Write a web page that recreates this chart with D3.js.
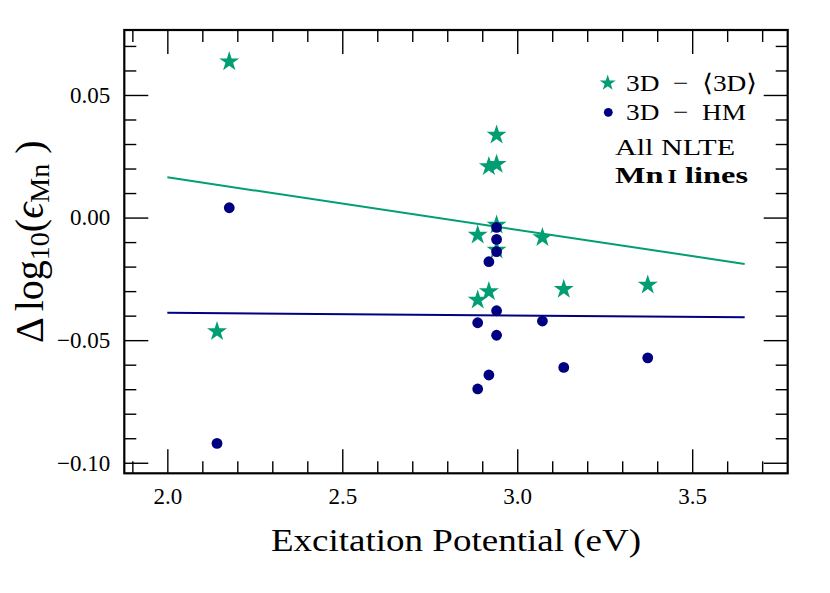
<!DOCTYPE html>
<html>
<head>
<meta charset="utf-8">
<script src="https://cdn.jsdelivr.net/npm/d3@7"></script>
<style>
  body { margin: 0; background: #fff; }
  text { font-family: "Liberation Serif", "DejaVu Serif", serif; fill: #000; }
</style>
</head>
<body>
<svg id="chart" width="830" height="593"></svg>
<script>
// excitation potential (eV) and abundance differences
const epStar = [2.177, 2.142, 2.941, 2.941, 2.941, 2.941, 2.919, 2.919, 2.887, 2.887, 3.072, 3.133, 3.373];
const diff3D = [0.0636, -0.0465, 0.0337, 0.0217, -0.0030, -0.0132, 0.0208, -0.0302, -0.0071, -0.0336, -0.0081, -0.0292, -0.0275];

const epDot = [2.142, 2.177, 2.941, 2.941, 2.941, 2.941, 2.941, 2.919, 2.919, 2.887, 2.887, 3.072, 3.133, 3.373];
const diffHM = [-0.0921, 0.0040, -0.0040, -0.0089, -0.0139, -0.0380, -0.0480, -0.0180, -0.0642, -0.0429, -0.0699, -0.0422, -0.0611, -0.0572];

// straight-line fits (end points)
const fitEP = [2.0, 3.65];
const fit3D = [0.0164, -0.0189];
const fitHM = [-0.0388, -0.0407];

const xTicks = [2.0, 2.5, 3.0, 3.5];
const yTicks = [-0.10, -0.05, 0.00, 0.05];

const green = "#029e73";
const navy = "#000080";
const serif = '"Liberation Serif", "DejaVu Serif", serif';

const svg = d3.select("#chart");
const pLeft = 124.3, pRight = 787.7, pTop = 30, pBottom = 473.3;

const x = d3.scaleLinear().domain([1.877, 3.773]).range([pLeft, pRight]);
const y = d3.scaleLinear().domain([-0.1043, 0.0765]).range([pBottom, pTop]);

const xMinor = d3.range(19, 38).map((d) => d / 10).filter((d) => !xTicks.some((t) => Math.abs(t - d) < 1e-9));
const yMinor = d3.range(-10, 8).map((d) => d / 100).filter((d) => !yTicks.some((t) => Math.abs(t - d) < 1e-9));

function styleAxis(g) {
  g.attr("font-family", serif).attr("font-size", 23);
  g.select(".domain").remove();
  g.selectAll("line").attr("stroke", "#000").attr("stroke-width", 1.4);
  g.selectAll("text").attr("font-family", serif).attr("font-size", 23).attr("fill", "#000");
}

// bottom
svg.append("g").attr("transform", `translate(0,${pBottom})`)
  .call(d3.axisBottom(x).tickValues(xTicks).tickSizeInner(-24).tickSizeOuter(0).tickPadding(14).tickFormat(d3.format(".1f")))
  .call(styleAxis);
svg.append("g").attr("transform", `translate(0,${pBottom})`)
  .call(d3.axisBottom(x).tickValues(xMinor).tickSizeInner(-12).tickSizeOuter(0).tickFormat(""))
  .call(styleAxis);
// top
svg.append("g").attr("transform", `translate(0,${pTop})`)
  .call(d3.axisTop(x).tickValues(xTicks).tickSizeInner(-24).tickSizeOuter(0).tickFormat(""))
  .call(styleAxis);
svg.append("g").attr("transform", `translate(0,${pTop})`)
  .call(d3.axisTop(x).tickValues(xMinor).tickSizeInner(-12).tickSizeOuter(0).tickFormat(""))
  .call(styleAxis);
// left
svg.append("g").attr("transform", `translate(${pLeft},0)`)
  .call(d3.axisLeft(y).tickValues(yTicks).tickSizeInner(-24).tickSizeOuter(0).tickPadding(14).tickFormat(d3.format(".2f")))
  .call(styleAxis);
svg.append("g").attr("transform", `translate(${pLeft},0)`)
  .call(d3.axisLeft(y).tickValues(yMinor).tickSizeInner(-12).tickSizeOuter(0).tickFormat(""))
  .call(styleAxis);
// right
svg.append("g").attr("transform", `translate(${pRight},0)`)
  .call(d3.axisRight(y).tickValues(yTicks).tickSizeInner(-24).tickSizeOuter(0).tickFormat(""))
  .call(styleAxis);
svg.append("g").attr("transform", `translate(${pRight},0)`)
  .call(d3.axisRight(y).tickValues(yMinor).tickSizeInner(-12).tickSizeOuter(0).tickFormat(""))
  .call(styleAxis);

svg.append("rect")
  .attr("x", pLeft).attr("y", pTop)
  .attr("width", pRight - pLeft).attr("height", pBottom - pTop)
  .attr("fill", "none").attr("stroke", "#000").attr("stroke-width", 2.2);

// fit lines
const line = d3.line().x((d) => x(d[0])).y((d) => y(d[1]));
svg.append("path")
  .attr("d", line(fitEP.map((e, i) => [e, fit3D[i]])))
  .attr("fill", "none").attr("stroke", green).attr("stroke-width", 2);
svg.append("path")
  .attr("d", line(fitEP.map((e, i) => [e, fitHM[i]])))
  .attr("fill", "none").attr("stroke", navy).attr("stroke-width", 2);

// points
const star = d3.symbol(d3.symbolStar, 124);
svg.append("g").selectAll("path")
  .data(epStar.map((e, i) => [e, diff3D[i]]))
  .join("path")
  .attr("d", star)
  .attr("transform", (d) => `translate(${x(d[0])},${y(d[1])})`)
  .attr("fill", green);

svg.append("g").selectAll("circle")
  .data(epDot.map((e, i) => [e, diffHM[i]]))
  .join("circle")
  .attr("cx", (d) => x(d[0]))
  .attr("cy", (d) => y(d[1]))
  .attr("r", 5.4)
  .attr("fill", navy);

// legend
svg.append("path")
  .attr("d", d3.symbol(d3.symbolStar, 80)())
  .attr("transform", "translate(607.7,83)")
  .attr("fill", green);
svg.append("circle")
  .attr("cx", 608.3).attr("cy", 112.3).attr("r", 4.4)
  .attr("fill", navy);

svg.append("text")
  .attr("x", 626).attr("y", 91)
  .attr("font-size", 24)
  .attr("textLength", 131).attr("lengthAdjust", "spacingAndGlyphs")
  .text("3D\u00a0\u00a0\u2212\u00a0\u00a0\u27e83D\u27e9");
svg.append("text")
  .attr("x", 626).attr("y", 120)
  .attr("font-size", 24)
  .attr("textLength", 120).attr("lengthAdjust", "spacingAndGlyphs")
  .text("3D\u00a0\u00a0\u2212\u00a0\u00a0HM");
svg.append("text")
  .attr("x", 615).attr("y", 155)
  .attr("font-size", 24)
  .attr("textLength", 120).attr("lengthAdjust", "spacingAndGlyphs")
  .text("All NLTE");
const mn = svg.append("text")
  .attr("x", 615).attr("y", 183)
  .attr("font-size", 24)
  .attr("font-weight", "bold")
  .attr("textLength", 133).attr("lengthAdjust", "spacingAndGlyphs");
mn.append("tspan").text("Mn");
mn.append("tspan").attr("font-size", 18).attr("dx", 3).text("I");
mn.append("tspan").text(" lines");

// axis titles
svg.append("text")
  .attr("x", (pLeft + pRight) / 2).attr("y", 551)
  .attr("text-anchor", "middle")
  .attr("font-size", 31)
  .attr("textLength", 370).attr("lengthAdjust", "spacingAndGlyphs")
  .text("Excitation Potential (eV)");

const yl = svg.append("text")
  .attr("transform", "translate(43,343) rotate(-90)")
  .attr("font-size", 40);
yl.append("tspan").text("\u0394");
yl.append("tspan").attr("dx", 6).text("log");
yl.append("tspan").attr("font-size", 28).attr("dy", 6).text("10");
yl.append("tspan").attr("dy", -6).text("(");
yl.append("tspan").attr("font-style", "italic").text("\u03f5");
yl.append("tspan").attr("font-size", 28).attr("dy", 6).text("Mn");
yl.append("tspan").attr("dy", -6).attr("dx", 10).text(")");
</script>
</body>
</html>
